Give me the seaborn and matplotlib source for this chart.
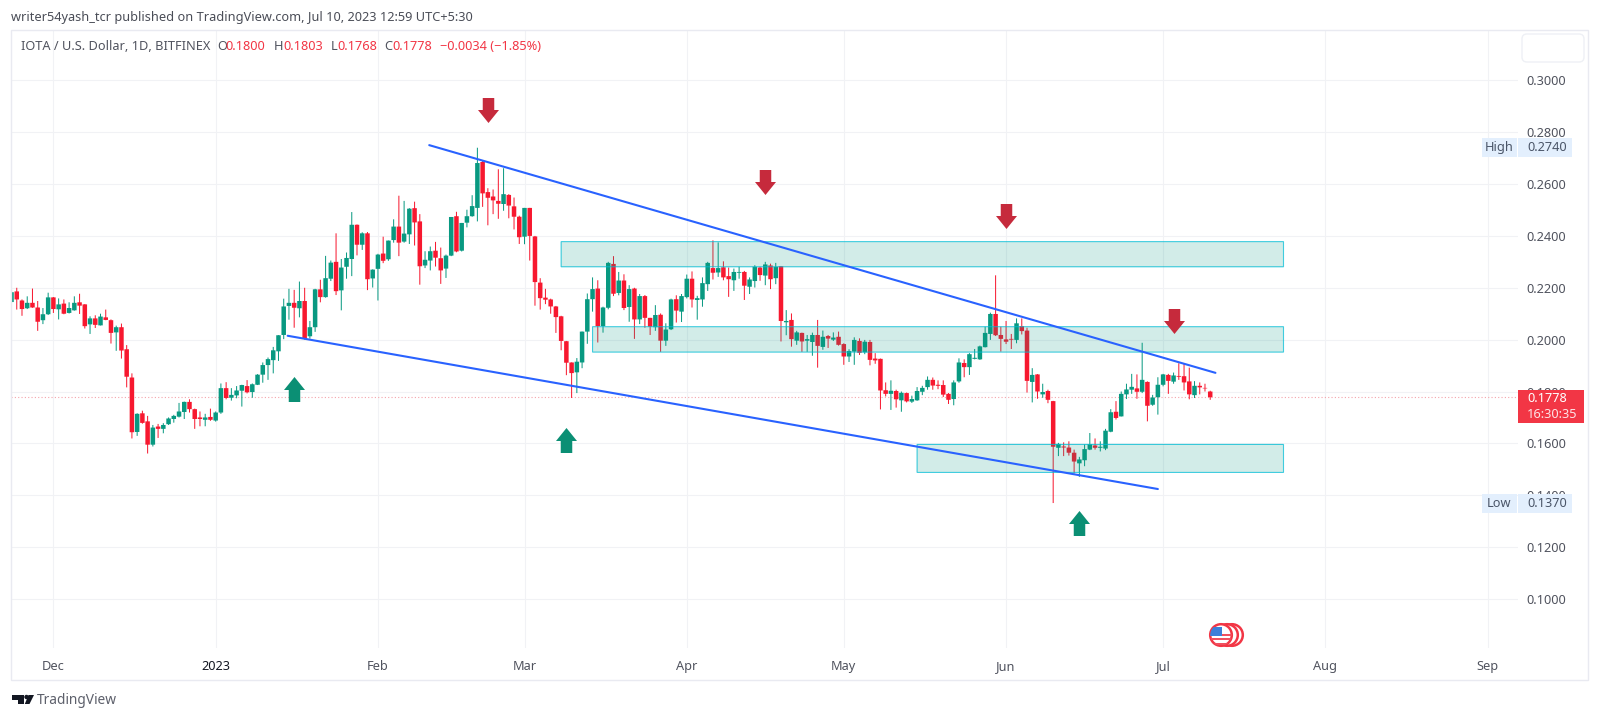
# IOTA / USD daily candles, redrawn from a published TradingView screenshot.
import matplotlib
matplotlib.use("Agg")
import matplotlib.pyplot as plt
import numpy as np
import seaborn as sns
from matplotlib.patches import Circle, FancyBboxPatch, Polygon, Rectangle
from matplotlib.path import Path
from matplotlib.transforms import Affine2D

# x values are days counted from 1 Dec 2022, first candle is 23 Nov
first_day = -8

opens = [
    .2145, .2186, .2151, .2121, .2142, .2124, .2075, .2098,
    # Dec
    .2163, .2117, .2139, .2103, .2113, .2144, .2136, .2059, .2082, .2055, .2086,
    .2075, .2028, .2048, .1963, .1854, .1644, .1716, .1685, .1595, .1665, .1656,
    .1674, .1694, .1703, .1721, .1760, .1732, .1700, .1691, .1702,
    # Jan
    .1688, .1719, .1813, .1776, .1785, .1803, .1821, .1798, .1826, .1865, .1902,
    .1921, .1955, .2018, .2130, .2142, .2121, .2149, .2013, .2048, .2194, .2164,
    .2235, .2300, .2190, .2281, .2311, .2443, .2366, .2410, .2236,
    # Feb
    .2273, .2332, .2310, .2384, .2436, .2378, .2406, .2507, .2456, .2286, .2305,
    .2343, .2314, .2274, .2324, .2476, .2343, .2451, .2476, .2508, .2685, .2569,
    .2552, .2535, .2523, .2558, .2514, .2474,
    # Mar
    .2397, .2508, .2398, .2220, .2162, .2155, .2128, .2090, .1994, .1912, .1874,
    .1912, .2031, .2156, .2197, .2052, .2123, .2292, .2180, .2228, .2126, .2197,
    .2078, .2168, .2084, .2048, .2096, .1996, .2040, .2156, .2108,
    # Apr
    .2164, .2235, .2153, .2155, .2214, .2276, .2259, .2279, .2245, .2229, .2258,
    .2261, .2204, .2226, .2278, .2247, .2286, .2237, .2283, .2067, .2076, .1996,
    .2026, .1996, .1991, .2018, .1972, .2014, .2000, .2011,
    # May
    .1983, .1935, .1954, .1995, .1951, .1991, .1927, .1926, .1805, .1791, .1802,
    .1766, .1794, .1761, .1766, .1799, .1817, .1845, .1826, .1825, .1791, .1771,
    .1839, .1910, .1894, .1926, .1924, .1971, .2022, .2099, .2018,
    # Jun
    .2001, .2003, .1999, .2052, .2035, .1837, .1866, .1789, .1802, .1763, .1583,
    .1588, .1584, .1564, .1523, .1535, .1576, .1592, .1583, .1580, .1645, .1722,
    .1704, .1789, .1807, .1812, .1799, .1837, .1749, .1778,
    # Jul
    .1826, .1864, .1838, .1860, .1859, .1839, .1786, .1822, .1814, .1800,
]

closes = [
    .2183, .2155, .2118, .2142, .2124, .2069, .2098, .2163,
    # Dec
    .2118, .2136, .2100, .2122, .2142, .2131, .2052, .2082, .2057, .2089, .2076,
    .2026, .2048, .1958, .1857, .1643, .1714, .1679, .1595, .1661, .1656, .1671,
    .1696, .1706, .1723, .1760, .1732, .1694, .1694, .1700, .1691,
    # Jan
    .1719, .1813, .1775, .1787, .1804, .1825, .1797, .1828, .1865, .1902, .1925,
    .1959, .2017, .2128, .2142, .2123, .2149, .2003, .2048, .2194, .2164, .2237,
    .2297, .2187, .2278, .2315, .2443, .2366, .2410, .2233, .2270,
    # Feb
    .2328, .2304, .2382, .2436, .2374, .2409, .2505, .2452, .2283, .2308, .2341,
    .2316, .2267, .2324, .2473, .2340, .2450, .2476, .2515, .2681, .2564, .2547,
    .2537, .2524, .2561, .2517, .2474, .2395,
    # Mar
    .2508, .2400, .2222, .2160, .2154, .2128, .2087, .1995, .1911, .1871, .1915,
    .2031, .2156, .2195, .2052, .2124, .2296, .2177, .2228, .2122, .2195, .2078,
    .2168, .2084, .2050, .2095, .1996, .2039, .2155, .2112, .2168,
    # Apr
    .2235, .2155, .2160, .2218, .2296, .2258, .2276, .2240, .2233, .2261, .2261,
    .2208, .2232, .2281, .2249, .2290, .2233, .2281, .2072, .2072, .2002, .2028,
    .1993, .2002, .2018, .1976, .2011, .2004, .2008, .1980,
    # May
    .1935, .1956, .1999, .1949, .1992, .1922, .1920, .1804, .1791, .1803, .1770,
    .1795, .1762, .1771, .1802, .1814, .1845, .1823, .1822, .1788, .1768, .1835,
    .1912, .1894, .1944, .1930, .1974, .2026, .2099, .2017, .2003,
    # Jun
    .1992, .2000, .2063, .2033, .1841, .1864, .1800, .1798, .1768, .1587, .1598,
    .1584, .1564, .1530, .1538, .1578, .1597, .1583, .1587, .1649, .1720, .1698,
    .1791, .1808, .1818, .1799, .1845, .1745, .1777, .1826,
    # Jul
    .1866, .1841, .1862, .1857, .1835, .1789, .1822, .1816, .1812, .1778,
]

highs = [
    .2190, .2200, .2155, .2167, .2197, .2149, .2122, .2181,
    # Dec
    .2164, .2159, .2155, .2144, .2167, .2177, .2137, .2090, .2094, .2100, .2116,
    .2078, .2054, .2062, .1979, .1870, .1716, .1726, .1706, .1671, .1675, .1678,
    .1700, .1710, .1756, .1761, .1770, .1734, .1723, .1714, .1734,
    # Jan
    .1723, .1831, .1836, .1813, .1821, .1826, .1844, .1831, .1867, .1912, .1931,
    .1972, .2017, .2158, .2196, .2192, .2224, .2200, .2072, .2196, .2231, .2323,
    .2305, .2410, .2311, .2336, .2492, .2444, .2414, .2415, .2271,
    # Feb
    .2331, .2397, .2382, .2464, .2555, .2535, .2507, .2532, .2484, .2341, .2359,
    .2377, .2355, .2328, .2473, .2493, .2450, .2501, .2557, .2740, .2689, .2584,
    .2579, .2657, .2661, .2561, .2548, .2478,
    # Mar
    .2508, .2508, .2400, .2237, .2196, .2158, .2130, .2092, .1995, .1912, .1929,
    .2031, .2178, .2240, .2229, .2127, .2300, .2322, .2261, .2252, .2210, .2200,
    .2176, .2172, .2084, .2133, .2101, .2063, .2158, .2171, .2176,
    # Apr
    .2251, .2263, .2169, .2240, .2300, .2383, .2375, .2302, .2278, .2274, .2281,
    .2265, .2240, .2287, .2281, .2300, .2293, .2296, .2284, .2114, .2101, .2034,
    .2027, .2018, .2027, .2076, .2035, .2018, .2028, .2031,
    # May
    .1986, .1963, .2009, .2005, .1999, .1999, .1948, .1927, .1835, .1843, .1807,
    .1800, .1796, .1784, .1817, .1822, .1858, .1854, .1843, .1843, .1794, .1843,
    .1928, .1924, .1948, .1964, .1977, .2050, .2104, .2248, .2050,
    # Jun
    .2072, .2022, .2082, .2082, .2046, .1890, .1867, .1830, .1807, .1764, .1602,
    .1604, .1608, .1576, .1548, .1596, .1640, .1619, .1608, .1656, .1732, .1763,
    .1800, .1830, .1868, .1866, .1988, .1839, .1787, .1855,
    # Jul
    .1868, .1868, .1873, .1909, .1909, .1892, .1840, .1835, .1830, .1803,
]

lows = [
    .2142, .2116, .2092, .2118, .2123, .2034, .2060, .2095,
    # Dec
    .2103, .2078, .2098, .2101, .2112, .2099, .2043, .2022, .2045, .2055, .2075,
    .1985, .1957, .1927, .1816, .1619, .1629, .1676, .1561, .1588, .1621, .1639,
    .1671, .1680, .1700, .1694, .1719, .1656, .1666, .1666, .1687,
    # Jan
    .1684, .1714, .1770, .1765, .1774, .1742, .1793, .1776, .1825, .1834, .1845,
    .1870, .1918, .2002, .2077, .2046, .2086, .2000, .2004, .2030, .2144, .2162,
    .2226, .2172, .2113, .2235, .2245, .2325, .2346, .2191, .2201,
    # Feb
    .2151, .2295, .2304, .2374, .2322, .2374, .2369, .2363, .2212, .2276, .2267,
    .2282, .2215, .2238, .2322, .2337, .2340, .2433, .2474, .2456, .2512, .2441,
    .2484, .2466, .2497, .2468, .2425, .2369,
    # Mar
    .2368, .2305, .2131, .2116, .2137, .2100, .2026, .1959, .1863, .1775, .1794,
    .1890, .1984, .2108, .1989, .2027, .2117, .2168, .2171, .2114, .2069, .2003,
    .2060, .2046, .2018, .2034, .1953, .1976, .2037, .2066, .2068,
    # Apr
    .2159, .2124, .2077, .2127, .2188, .2232, .2242, .2229, .2165, .2188, .2235,
    .2153, .2176, .2201, .2227, .2210, .2195, .2214, .1993, .2017, .1973, .1980,
    .1953, .1953, .1938, .1892, .1961, .1968, .1995, .1977,
    # May
    .1903, .1914, .1903, .1941, .1944, .1901, .1907, .1731, .1781, .1729, .1738,
    .1722, .1758, .1756, .1764, .1786, .1807, .1807, .1809, .1779, .1752, .1747,
    .1834, .1855, .1864, .1924, .1922, .1970, .1999, .2014, .1954,
    # Jun
    .1983, .1964, .1986, .2020, .1796, .1758, .1772, .1776, .1755, .1370, .1551,
    .1551, .1553, .1484, .1471, .1512, .1574, .1576, .1569, .1574, .1643, .1692,
    .1704, .1771, .1791, .1772, .1794, .1685, .1745, .1711,
    # Jul
    .1820, .1791, .1830, .1845, .1804, .1770, .1775, .1789, .1800, .1768,
]

# the two channel lines, (day, price) at each end
upper_days = [71.8, 222.0]
upper_prices = [.2750, .1872]
lower_days = [44.75, 211.0]
lower_prices = [.2015, .1424]

# support / resistance zones
zone_starts = [97.0, 103.0, 165.0]
zone_ends = [235.0, 235.0, 235.0]
zone_tops = [.2378, .2050, .1596]
zone_bottoms = [.2281, .1952, .1488]

# arrows drawn by the author
down_days = [83.0, 135.9, 182.0, 214.0]
down_prices = [.2884, .2608, .2477, .2072]
up_days = [46.0, 97.9, 196.0]
up_prices = [.1808, .1613, .1293]

price_ticks = [.10, .12, .14, .16, .18, .20, .22, .24, .26, .28, .30]
month_days = [0, 31, 62, 90, 121, 151, 182, 212, 243, 274]
month_labels = ["Dec", "2023", "Feb", "Mar", "Apr", "May", "Jun", "Jul", "Aug", "Sep"]

GREEN = "#089981"
RED = "#f7182f"
BLUE = "#2962ff"
CYAN = "#00bcd4"
GRID = "#f1f2f5"
FRAME = "#e9eaf1"
LABEL = "#50535e"
FONT = "Noto Sans"

W, H = 1600, 719

sns.set_theme(style="white")
plt.rcParams["font.family"] = [FONT, "DejaVu Sans"]

fig = plt.figure(figsize=(W / 100, H / 100), dpi=100, facecolor="white")
# plot area in screenshot pixels: x 11..1518, y 30..648
ax = fig.add_axes([11 / W, 1 - 648 / H, (1518 - 11) / W, (648 - 30) / H])
ax.set_xlim(-8.1, 279.8)
ax.set_ylim(.0811, .3194)

# top-left pixel coordinates for everything outside the axes
PX = Affine2D().scale(1, -1).translate(0, H)


def draw_candles(ax):
    days = np.arange(first_day, first_day + len(opens))
    o, h, l, c = map(np.array, (opens, highs, lows, closes))
    colors = np.where(c >= o, GREEN, RED)

    wicks = ax.vlines(days, l, h, colors=colors, linewidth=0.72, zorder=2)
    wicks.set_snap(False)
    bars = ax.bar(days, np.abs(c - o), bottom=np.minimum(o, c), width=0.86,
                  color=colors, linewidth=0, zorder=3)
    # no pixel snapping, so thin marks blur like the resized screenshot
    for bar in bars:
        bar.set_snap(False)


def draw_zones(ax):
    for x0, x1, top, bottom in zip(zone_starts, zone_ends, zone_tops, zone_bottoms):
        ax.add_patch(Rectangle((x0, bottom), x1 - x0, top - bottom, facecolor=GREEN,
                               alpha=0.18, linewidth=0, zorder=4))
        edge = Rectangle((x0, bottom), x1 - x0, top - bottom, fill=False,
                         edgecolor=CYAN, alpha=0.75, linewidth=0.8, zorder=4)
        edge.set_snap(False)
        ax.add_patch(edge)


def arrow_marker(direction):
    # direction 1 points up, -1 points down
    verts = [(-.46, -1), (.46, -1), (.46, -.04), (.84, -.04), (0, 1), (-.84, -.04),
             (-.46, -.04), (-.46, -1)]
    return Path([(x, direction * y) for x, y in verts], closed=True)


def px_label(x, y, text, color=LABEL, size=9.2, ha="left", **kwargs):
    fig.text(x, y, text, transform=PX, color=color, fontsize=size, ha=ha,
             va="center", zorder=12, **kwargs)


def draw_flags():
    # stack of event badges under the last candles, front one carries the US flag
    for cx in [1232, 1227]:
        fig.add_artist(Circle((cx, 635), 10.8, transform=PX, facecolor="white",
                              edgecolor="#f23645", linewidth=1.8, zorder=8))
    front = Circle((1221, 635), 10.8, transform=PX, facecolor="white",
                   edgecolor="#f23645", linewidth=1.8, zorder=8)
    fig.add_artist(front)
    marks = [Rectangle((1209, y), 24, 2.2, transform=PX, facecolor="#f0505f",
                       linewidth=0, zorder=9) for y in [633.5, 638, 642.5]]
    marks.append(Rectangle((1210, 627), 12, 9, transform=PX, facecolor="#3d7fd9",
                           linewidth=0, zorder=9))
    for mark in marks:
        fig.add_artist(mark)
        mark.set_clip_path(front)


draw_candles(ax)
draw_zones(ax)

sns.lineplot(x=upper_days, y=upper_prices, color=BLUE, linewidth=1.5, errorbar=None,
             ax=ax, zorder=5)
sns.lineplot(x=lower_days, y=lower_prices, color=BLUE, linewidth=1.5, errorbar=None,
             ax=ax, zorder=5)
sns.scatterplot(x=down_days, y=down_prices, marker=arrow_marker(-1), s=324,
                color="#c62a3c", linewidth=0, ax=ax, zorder=6)
sns.scatterplot(x=up_days, y=up_prices, marker=arrow_marker(1), s=324,
                color="#0b8f74", linewidth=0, ax=ax, zorder=6)

ax.axhline(closes[-1], color="#f4a3ab", linestyle=(0, (1, 2)), linewidth=0.8, zorder=1)

# axes, grid, tick labels
ax.set_yticks(price_ticks)
ax.set_yticklabels([f"{p:.4f}" for p in price_ticks])
ax.yaxis.tick_right()
ax.set_xticks(month_days)
ax.set_xticklabels(month_labels)
ax.tick_params(axis="y", length=0, pad=6.3, labelsize=9.2, labelcolor=LABEL)
ax.tick_params(axis="x", length=0, pad=8.5, labelsize=9.2, labelcolor=LABEL)
ax.get_xticklabels()[1].set_fontweight("bold")
ax.get_xticklabels()[1].set_color("#131722")
ax.grid(True, color=GRID, linewidth=0.8)
ax.set_axisbelow(True)
ax.set_xlabel("")
ax.set_ylabel("")
sns.despine(ax=ax, left=True, bottom=True, right=True, top=True)

# outer frame and the empty box at top right
fig.add_artist(Rectangle((11, 30), 1577, 650, transform=PX, fill=False,
                         edgecolor=FRAME, linewidth=1))
fig.add_artist(FancyBboxPatch((1527, 39), 52, 18, boxstyle="round,pad=5,rounding_size=5",
                              transform=PX, fill=False, edgecolor="#eef0f5", linewidth=1))

# header and OHLC legend
px_label(11, 18, "writer54yash_tcr published on TradingView.com, Jul 10, 2023 12:59 UTC+5:30",
         color="#4a4d57", size=9.2)
px_label(20.7, 47, "IOTA / U.S. Dollar, 1D, BITFINEX")
for x, letter in zip([217, 273.6, 331, 384], "OHLC"):
    px_label(x, 47, letter)
for x, value in zip([225.7, 283, 337.5, 392], [opens[-1], highs[-1], lows[-1], closes[-1]]):
    px_label(x, 47, f"{value:.4f}", color="#f23645")
px_label(440, 47, "\u22120.0034 (\u22121.85%)", color="#f23645")

# High / Low chips on the price scale
for y, word, value in [(147.5, "High", max(highs)), (503.5, "Low", min(lows))]:
    fig.add_artist(Rectangle((1482, y - 9.5), 35, 19, transform=PX, facecolor="#e3effd",
                             linewidth=0, zorder=10))
    fig.add_artist(Rectangle((1518, y - 9.5), 54, 19, transform=PX, facecolor="#e3effd",
                             linewidth=0, zorder=10))
    px_label(1499.5, y, word, color="#4a5568", ha="center")
    px_label(1527, y, f"{value:.4f}", color="#4a5568")

# last price tag
fig.add_artist(Rectangle((1518, 389.5), 66, 33.5, transform=PX, facecolor="#f23645",
                         linewidth=0, zorder=10))
px_label(1527, 398.5, f"{closes[-1]:.4f}", color="white", fontweight="bold")
px_label(1527, 414, "16:30:35", color="#fde3e6")

draw_flags()

# TradingView mark, bottom left
fig.add_artist(Polygon([(12, 695), (24, 695), (24, 704), (18, 704), (18, 700), (12, 700)],
                       closed=True, transform=PX, facecolor="#131722", linewidth=0))
fig.add_artist(Circle((26.5, 697), 2.2, transform=PX, facecolor="#131722", linewidth=0))
fig.add_artist(Polygon([(28.5, 695), (34, 695), (29.5, 704), (24.8, 704)],
                       closed=True, transform=PX, facecolor="#131722", linewidth=0))
px_label(37, 700, "TradingView", color="#5d606b", size=9.9)

fig.savefig("out.png", dpi=100, facecolor="white")
